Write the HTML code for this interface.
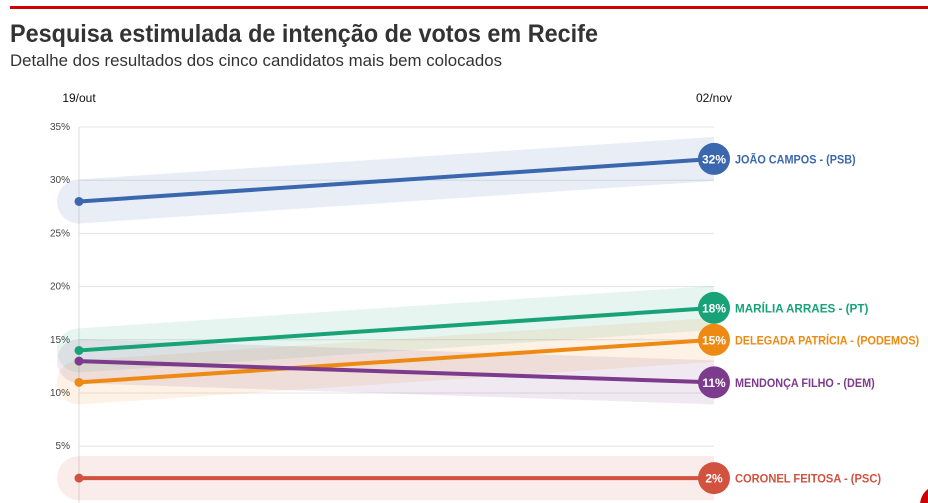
<!DOCTYPE html>
<html><head><meta charset="utf-8"><style>
body{margin:0;background:#fff;width:928px;height:503px;overflow:hidden;font-family:"Liberation Sans",sans-serif;}
</style></head><body>
<svg width="928" height="503" style="position:absolute;left:0;top:0">
<rect x="10" y="6" width="918" height="3" fill="#cc0000"/>
<text x="10" y="42" font-size="25" font-weight="bold" fill="#333" textLength="588" lengthAdjust="spacingAndGlyphs">Pesquisa estimulada de intenção de votos em Recife</text>
<text x="10" y="66" font-size="17" fill="#333" textLength="492" lengthAdjust="spacingAndGlyphs">Detalhe dos resultados dos cinco candidatos mais bem colocados</text>
<defs><clipPath id="cp"><rect x="0" y="90" width="714" height="413"/></clipPath></defs>
<g id="grid"></g>
<g id="bands" clip-path="url(#cp)"></g>
<g id="lines"></g>
<circle cx="940" cy="505" r="20" fill="#cc0000"/>
</svg>
<script>
const dates=["19/out","02/nov"];
const yTicks=[5,10,15,20,25,30,35];
const names=["JOÃO CAMPOS - (PSB)","MARÍLIA ARRAES - (PT)","DELEGADA PATRÍCIA - (PODEMOS)","MENDONÇA FILHO - (DEM)","CORONEL FEITOSA - (PSC)"];
const startVals=[28,14,11,13,2];
const endVals=[32,18,15,11,2];
const colors=["#3a67ad","#17a377","#ee8a14","#7c3b8c","#d0523f"];
const NS="http://www.w3.org/2000/svg";
const X0=79,X1=714;
const xs=i=>i===0?X0:X1;
const y=v=>127+(35-v)*10.64;
function mk(t,a,p){const e=document.createElementNS(NS,t);for(const k in a)e.setAttribute(k,a[k]);document.getElementById(p).appendChild(e);return e;}
function labelW(s){return s.length*6.35;}
yTicks.forEach(t=>{
 const l=mk("line",{x1:X0,x2:X1,y1:y(t),y2:y(t),stroke:"#e4e4e4","stroke-width":1},"grid");
 
 
 const tx=mk("text",{x:70,y:y(t)+3,"font-size":10,fill:"#444","text-anchor":"end"},"grid");
 tx.textContent=t+"%";
 
 
});
const ax=mk("line",{x1:X0,x2:X0,y1:y(35),y2:503,stroke:"#ddd","stroke-width":1},"grid");


dates.forEach((d,i)=>{
 const t=mk("text",{x:xs(i),y:102,"font-size":12,fill:"#111","text-anchor":"middle"},"grid");
 t.textContent=d;
 
 
});
names.forEach((n,i)=>{
 const b=mk("line",{x1:xs(0),y1:y(startVals[i]),x2:xs(1)+40,y2:y(endVals[i])+(y(endVals[i])-y(startVals[i]))*40/635,stroke:colors[i],"stroke-opacity":0.11,"stroke-width":44,"stroke-linecap":"round"},"bands");
 
 
 const l=mk("line",{x1:xs(0),y1:y(startVals[i]),x2:xs(1),y2:y(endVals[i]),stroke:colors[i],"stroke-width":4},"lines");
 
 
 const c=mk("circle",{cx:xs(0),cy:y(startVals[i]),r:4.5,fill:colors[i]},"lines");
 
 
 const e=mk("circle",{cx:xs(1),cy:y(endVals[i]),r:16,fill:colors[i]},"lines");
 
 
 const v=mk("text",{x:xs(1),y:y(endVals[i])+4.5,"font-size":12,"font-weight":"bold",fill:"#fff","text-anchor":"middle"},"lines");
 v.textContent=endVals[i]+"%";
 
 
 const nt=mk("text",{x:735,y:y(endVals[i])+4.5,"font-size":12,"font-weight":"bold",fill:colors[i],textLength:labelW(n),lengthAdjust:"spacingAndGlyphs"},"lines");
 nt.textContent=n;
 
 
});
</script>
</body></html>
